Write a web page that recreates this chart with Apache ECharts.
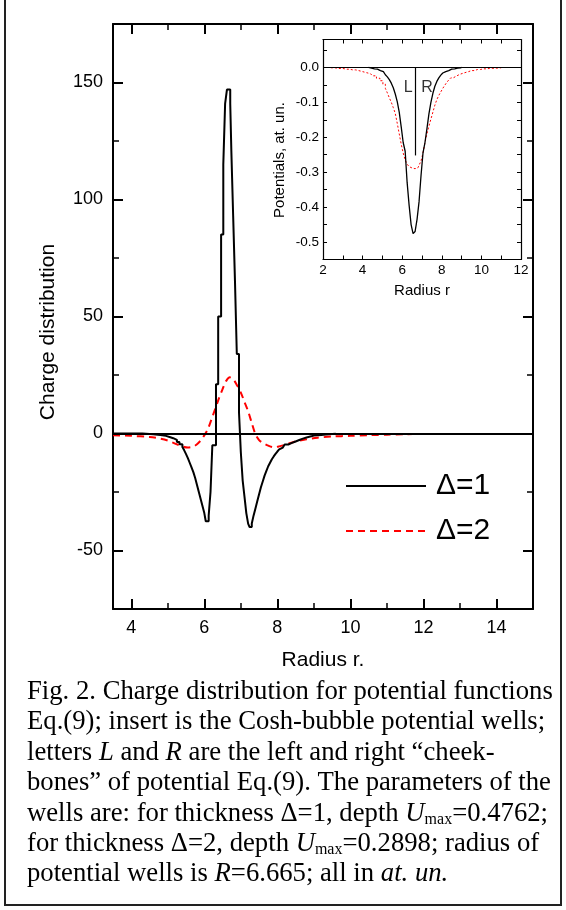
<!DOCTYPE html>
<html><head><meta charset="utf-8">
<script src="https://cdn.jsdelivr.net/npm/echarts@6/dist/echarts.min.js"></script>
<style>html,body{margin:0;padding:0;background:#fff}#c{width:566px;height:910px}</style>
</head><body><div id="c"></div>
<script>
// ---- main chart: charge distribution ----
const r1 = [3.5, 4.3, 4.6, 4.8, 4.95, 5.05, 5.15, 5.25, 5.32, 5.4, 5.45, 5.5, 5.55, 5.6, 5.65, 5.7, 5.75, 5.8, 5.85, 5.9, 5.95, 6.0, 6.04, 6.12, 6.17, 6.22, 6.32, 6.38, 6.46, 6.52, 6.57, 6.62, 6.71, 6.74, 6.79, 6.84, 6.89, 6.95, 7.0, 7.05, 7.1, 7.15, 7.2, 7.24, 7.3, 7.35, 7.4, 7.45, 7.5, 7.55, 7.6, 7.65, 7.7, 7.75, 7.8, 7.85, 7.9, 7.95, 8.0, 8.05, 8.1, 8.15, 8.2, 8.3, 8.4, 8.5, 8.6, 8.7, 8.8, 8.9, 9.0, 9.2, 9.4, 9.6];
const q1 = [0, -0.3, -0.6, -1.0, -1.5, -2.0, -2.7, -3.6, -4.6, -5.8, -7.2, -8.8, -10.5, -12.5, -14.5, -16.5, -19, -22, -25, -28, -31, -34, -37.5, -35, -25, -5, 21, 50, 85, 115, 141, 147, 141, 121, 93, 65, 34, 9, -8, -20, -27, -34, -38.5, -40, -38.5, -35, -32, -29, -26, -23, -20.5, -18, -16, -14, -12.5, -11, -9.8, -8.7, -7.7, -6.8, -6.0, -5.3, -4.7, -4.0, -3.4, -2.8, -2.2, -1.7, -1.3, -0.9, -0.6, -0.3, -0.1, 0];
const r2 = [3.5, 4.0, 4.5, 4.8, 5.0, 5.2, 5.4, 5.55, 5.7, 5.8, 5.9, 6.0, 6.1, 6.2, 6.3, 6.4, 6.5, 6.6, 6.7, 6.8, 6.9, 7.0, 7.1, 7.2, 7.3, 7.4, 7.5, 7.6, 7.75, 7.9, 8.05, 8.25, 8.5, 8.8, 9.1, 9.5, 10.0, 10.5, 11.0, 11.5, 12.0];
const q2 = [-0.7, -1.0, -1.5, -2.2, -3.0, -4.3, -5.5, -6.0, -5.6, -4.6, -3.0, -0.8, 2.0, 6.2, 10.5, 15, 19, 22.5, 24, 23, 20.5, 17.5, 13.5, 9.5, 4.5, -0.3, -2.8, -4.0, -5.2, -5.9, -5.5, -4.6, -3.4, -2.5, -1.8, -1.3, -1.0, -0.7, -0.5, -0.3, -0.2];
// ---- inset: potentials ----
const ir1 = [4.3, 4.4, 4.5, 4.6, 4.7, 4.8, 4.9, 5.0, 5.1, 5.2, 5.3, 5.4, 5.5, 5.6, 5.7, 5.8, 5.9, 6.0, 6.1, 6.2, 6.3, 6.4, 6.5, 6.6, 6.7, 6.8, 6.9, 7.0, 7.1, 7.2, 7.3, 7.4, 7.5, 7.6, 7.7, 7.8, 7.9, 8.0, 8.1, 8.2, 8.3, 8.4, 8.5, 8.6, 8.7, 8.8, 8.9, 9.0];
const u1 = [0, -0.002, -0.003, -0.004, -0.005, -0.007, -0.009, -0.012, -0.016, -0.021, -0.027, -0.035, -0.045, -0.058, -0.076, -0.098, -0.128, -0.17, -0.215, -0.24, -0.33, -0.395, -0.45, -0.476, -0.47, -0.435, -0.385, -0.31, -0.245, -0.215, -0.175, -0.133, -0.1, -0.074, -0.054, -0.04, -0.03, -0.022, -0.016, -0.012, -0.009, -0.007, -0.005, -0.004, -0.003, -0.002, -0.001, 0];
const ir2 = [2.4, 2.8, 3.2, 3.5, 3.8, 4.0, 4.2, 4.4, 4.6, 4.8, 4.95, 5.1, 5.2, 5.3, 5.4, 5.5, 5.6, 5.7, 5.8, 5.9, 6.0, 6.1, 6.2, 6.3, 6.4, 6.5, 6.6, 6.7, 6.8, 6.9, 7.0, 7.1, 7.2, 7.3, 7.4, 7.5, 7.6, 7.7, 7.8, 7.9, 8.0, 8.1, 8.2, 8.3, 8.4, 8.5, 8.65, 8.8, 9.0, 9.2, 9.5, 9.8, 10.1, 10.4, 10.7, 11.0];
const u2 = [-0.001, -0.003, -0.005, -0.007, -0.009, -0.012, -0.015, -0.018, -0.024, -0.031, -0.038, -0.048, -0.060, -0.073, -0.087, -0.100, -0.115, -0.132, -0.16, -0.19, -0.22, -0.245, -0.265, -0.277, -0.284, -0.288, -0.290, -0.290, -0.287, -0.280, -0.268, -0.245, -0.215, -0.19, -0.168, -0.148, -0.128, -0.108, -0.092, -0.080, -0.070, -0.060, -0.051, -0.043, -0.036, -0.030, -0.025, -0.020, -0.016, -0.012, -0.009, -0.006, -0.004, -0.003, -0.002, -0.001];
const wellRadius = 6.665;
const wellLineBottom = -0.252;
const lrLabels = [[6.30, -0.057, 'L'], [7.25, -0.057, 'R']];
// ---- ticks ----
const mainXMajor = [4, 6, 8, 10, 12, 14];
const mainXMinor = [5, 7, 9, 11, 13];
const mainYMajor = [-50, 0, 50, 100, 150];
const mainYMinor = [-25, 25, 75, 125];
const insXLabels = [2, 4, 6, 8, 10, 12];
const insXTicks = [3, 4, 5, 6, 7, 8, 9, 10, 11];
const insYLabels = [-0.5, -0.4, -0.3, -0.2, -0.1, 0];
const insYTicks = [-0.5, -0.45, -0.4, -0.35, -0.3, -0.25, -0.2, -0.15, -0.1, -0.05, 0, 0.05];
const seriesNames = ['\u0394=1', '\u0394=2'];
// ---- caption lines (segments: n normal, i italic, s subscript) ----
const captionLines = [
  [['n', 'Fig. 2. Charge distribution for potential functions']],
  [['n', 'Eq.(9); insert is the Cosh-bubble potential wells;']],
  [['n', 'letters '], ['i', 'L'], ['n', ' and '], ['i', 'R'], ['n', ' are the left and right \u201ccheek-']],
  [['n', 'bones\u201d of potential Eq.(9). The parameters of the']],
  [['n', 'wells are: for thickness \u0394=1, depth '], ['i', 'U'], ['s', 'max'], ['n', '=0.4762;']],
  [['n', 'for thickness \u0394=2, depth '], ['i', 'U'], ['s', 'max'], ['n', '=0.2898; radius of']],
  [['n', 'potential wells is '], ['i', 'R'], ['n', '=6.665; all in '], ['i', 'at. un.']]
];

const FONT = "'Liberation Sans', Arial, Helvetica, sans-serif";
const SERIF = "'Liberation Serif', 'Times New Roman', serif";
const zip = (a, b) => a.map((v, i) => [v, b[i]]);

function mk(o) {
  return Object.assign({
    type: 'value', splitLine: {show: false},
    axisLine: {show: false, onZero: false},
    axisTick: {show: false}, axisLabel: {show: false}
  }, o);
}
function line(w) { return {show: true, onZero: false, lineStyle: {color: '#000', width: w}}; }
function ticks(vals, len, w) { return {show: true, inside: true, length: len, customValues: vals, lineStyle: {color: '#000', width: w}}; }

const chart = echarts.init(document.getElementById('c'), null, {renderer: 'canvas'});

const xAxis = [
  mk({gridIndex: 0, position: 'bottom', min: 3.5, max: 15, axisLine: line(2), axisTick: ticks(mainXMajor, 10, 2),
      axisLabel: {show: true, customValues: mainXMajor, margin: 10, color: '#000', fontSize: 18, fontFamily: FONT},
      name: 'Radius r.', nameLocation: 'middle', nameGap: 41, nameTextStyle: {color: '#000', fontSize: 21, fontFamily: FONT}}),
  mk({gridIndex: 0, position: 'bottom', min: 3.5, max: 15, axisTick: ticks(mainXMinor, 6, 1.5)}),
  mk({gridIndex: 0, position: 'top', min: 3.5, max: 15, axisLine: line(2), axisTick: ticks(mainXMajor, 10, 2)}),
  mk({gridIndex: 0, position: 'top', min: 3.5, max: 15, axisTick: ticks(mainXMinor, 6, 1.5)}),
  mk({gridIndex: 1, position: 'bottom', min: 2, max: 12, axisLine: line(1.2), axisTick: ticks(insXTicks, 4, 1),
      axisLabel: {show: true, customValues: insXLabels, margin: 4, color: '#000', fontSize: 13.5, fontFamily: FONT},
      name: 'Radius r', nameLocation: 'middle', nameGap: 24, nameTextStyle: {color: '#000', fontSize: 15, fontFamily: FONT}}),
  mk({gridIndex: 1, position: 'top', min: 2, max: 12, axisLine: line(1.2), axisTick: ticks(insXTicks, 4, 1)})
];
const yAxis = [
  mk({gridIndex: 0, position: 'left', min: -75, max: 175, axisLine: line(2), axisTick: ticks(mainYMajor, 10, 2),
      axisLabel: {show: true, customValues: mainYMajor, margin: 10, color: '#000', fontSize: 18, fontFamily: FONT},
      name: 'Charge distribution', nameLocation: 'middle', nameGap: 54,
      nameTextStyle: {color: '#000', fontSize: 21, fontFamily: FONT, padding: [0, 31, 0, 0]}}),
  mk({gridIndex: 0, position: 'left', min: -75, max: 175, axisTick: ticks(mainYMinor, 6, 1.5)}),
  mk({gridIndex: 0, position: 'right', min: -75, max: 175, axisLine: line(2), axisTick: ticks(mainYMajor, 10, 2)}),
  mk({gridIndex: 0, position: 'right', min: -75, max: 175, axisTick: ticks(mainYMinor, 6, 1.5)}),
  mk({gridIndex: 1, position: 'left', min: -0.55, max: 0.08, axisLine: line(1.2), axisTick: ticks(insYTicks, 4, 1),
      axisLabel: {show: true, customValues: insYLabels, margin: 4, color: '#000', fontSize: 13.5, fontFamily: FONT,
                  formatter: v => Number(v).toFixed(1)},
      name: 'Potentials, at. un.', nameLocation: 'middle', nameGap: 36,
      nameTextStyle: {color: '#000', fontSize: 15, fontFamily: FONT, padding: [0, 21, 0, 0]}}),
  mk({gridIndex: 1, position: 'right', min: -0.55, max: 0.08, axisLine: line(1.2), axisTick: ticks(insYTicks, 4, 1)})
];

const ml = (w, data) => ({silent: true, symbol: ['none', 'none'], label: {show: false}, animation: false,
  lineStyle: {color: '#000', width: w, type: 'solid'}, emphasis: {disabled: true}, data});

// caption layout
const CAP_SIZE = 26.7, SUB_SIZE = 16, CAP_LEFT = 27, CAP_TOP = 692, CAP_STEP = 30.4;
const capRich = {
  n: {fontSize: CAP_SIZE, fontFamily: SERIF, fill: '#000', lineHeight: 31},
  i: {fontSize: CAP_SIZE, fontFamily: SERIF, fill: '#000', fontStyle: 'italic', lineHeight: 31},
  s: {fontSize: SUB_SIZE, fontFamily: SERIF, fill: '#000', lineHeight: 16, padding: [12, 0, 0, 0]}
};
function buildLine(segs, k) {
  const text = segs.map(([t, s]) => '{' + t + '|' + s + '}').join('');
  return {type: 'text', silent: true, x: CAP_LEFT, y: CAP_TOP + CAP_STEP * k,
          style: {text: text, rich: capRich, align: 'left', verticalAlign: 'middle'}};
}
const graphic = [
  {type: 'rect', silent: true, shape: {x: 5, y: -10, width: 556, height: 915},
   style: {fill: 'none', stroke: '#222', lineWidth: 2}}
].concat(captionLines.map((l, k) => buildLine(l, k)));

chart.setOption({
  animation: false,
  backgroundColor: '#fff',
  textStyle: {fontFamily: FONT},
  grid: [
    {left: 113, top: 24, width: 420, height: 585},
    {left: 323, top: 39.5, width: 198, height: 220}
  ],
  legend: {
    data: seriesNames, orient: 'vertical', left: 345, top: 471, padding: 0,
    itemWidth: 80, itemHeight: 30, itemGap: 15, selectedMode: false,
    itemStyle: {color: 'rgba(0,0,0,0)', borderWidth: 0, opacity: 0},
    textStyle: {color: '#000', fontSize: 30, lineHeight: 30, fontFamily: FONT, padding: [0, 0, 0, 5]}
  },
  xAxis: xAxis,
  yAxis: yAxis,
  graphic: graphic,
  series: [
    {name: seriesNames[0], type: 'line', xAxisIndex: 0, yAxisIndex: 0, data: zip(r1, q1), step: 'end',
     symbol: 'none', z: 4, lineStyle: {color: '#000', width: 2}, itemStyle: {color: '#000'},
     markLine: ml(2, [{yAxis: 0}])},
    {name: seriesNames[1], type: 'line', xAxisIndex: 0, yAxisIndex: 0, data: zip(r2, q2), smooth: 0.3,
     symbol: 'none', z: 3, lineStyle: {color: '#ff0000', width: 2, type: [7, 5]}, itemStyle: {color: '#ff0000'}},
    {name: 'inset1', type: 'line', xAxisIndex: 4, yAxisIndex: 4, data: zip(ir1, u1), step: 'middle',
     symbol: 'none', z: 4, lineStyle: {color: '#000', width: 1.3}, itemStyle: {color: '#000'},
     markLine: ml(1.2, [{yAxis: 0}, [{coord: [wellRadius, 0]}, {coord: [wellRadius, wellLineBottom]}]])},
    {name: 'inset2', type: 'line', xAxisIndex: 4, yAxisIndex: 4, data: zip(ir2, u2), step: 'middle',
     symbol: 'none', z: 3, lineStyle: {color: '#ff0000', width: 1, type: [2, 2]}, itemStyle: {color: '#ff0000'}},
    {name: 'LR', type: 'scatter', xAxisIndex: 4, yAxisIndex: 4, data: lrLabels, symbol: 'circle', symbolSize: 1,
     itemStyle: {color: 'rgba(0,0,0,0)'}, silent: true,
     label: {show: true, position: 'inside', formatter: p => p.value[2], color: '#000', fontSize: 16, fontFamily: FONT}}
  ]
});
</script>
</body></html>
